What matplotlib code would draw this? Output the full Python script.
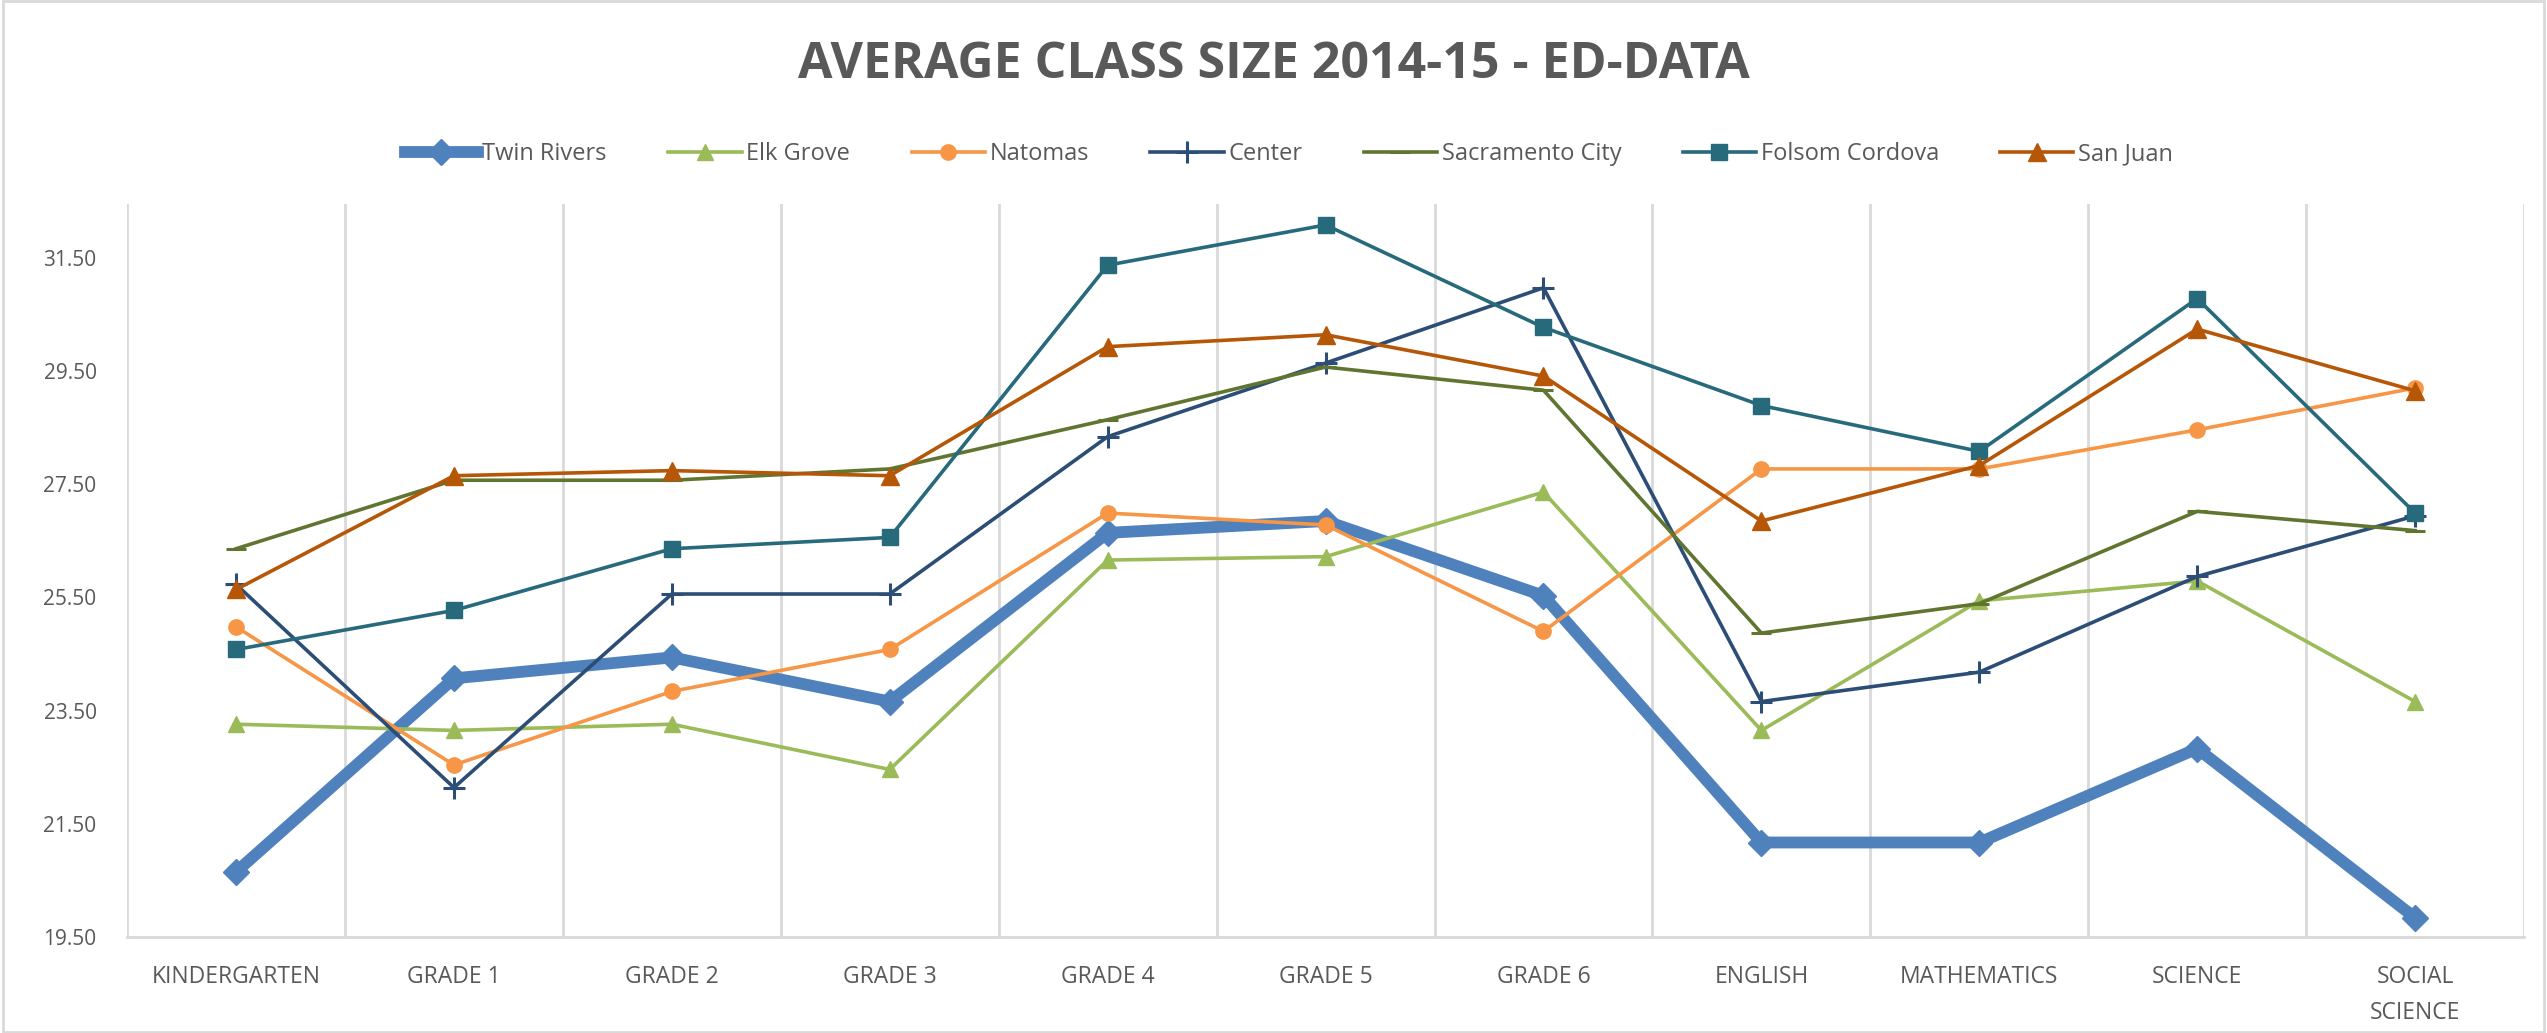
import matplotlib

matplotlib.use("Agg")
import matplotlib.pyplot as plt
from matplotlib import font_manager
from matplotlib.patches import Rectangle

CATEGORIES = [
    "KINDERGARTEN", "GRADE 1", "GRADE 2", "GRADE 3", "GRADE 4", "GRADE 5",
    "GRADE 6", "ENGLISH", "MATHEMATICS", "SCIENCE", "SOCIAL\nSCIENCE",
]

TWIN_RIVERS = [20.65, 24.07, 24.44, 23.66, 26.64, 26.85, 25.53, 21.17, 21.17, 22.83, 19.84]
ELK_GROVE = [23.26, 23.15, 23.26, 22.46, 26.16, 26.22, 27.36, 23.15, 25.44, 25.79, 23.66]
NATOMAS = [24.98, 22.54, 23.84, 24.58, 26.99, 26.78, 24.90, 27.77, 27.77, 28.46, 29.20]
CENTER = [25.73, 22.14, 25.56, 25.56, 28.34, 29.64, 30.97, 23.66, 24.18, 25.87, 26.94]
SACRAMENTO_CITY = [26.36, 27.57, 27.57, 27.77, 28.64, 29.57, 29.16, 24.87, 25.39, 27.02, 26.68]
FOLSOM_CORDOVA = [24.58, 25.27, 26.36, 26.56, 31.37, 32.08, 30.27, 28.89, 28.08, 30.78, 26.99]
SAN_JUAN = [25.64, 27.65, 27.74, 27.65, 29.93, 30.14, 29.41, 26.85, 27.83, 30.24, 29.15]

Y_TICKS = [19.5, 21.5, 23.5, 25.5, 27.5, 29.5, 31.5]

SERIES = [
    ("Twin Rivers", TWIN_RIVERS, "#4F81BD", "D", 8.5, 13),
    ("Elk Grove", ELK_GROVE, "#9BBB59", "^", 2.6, 12),
    ("Natomas", NATOMAS, "#F79646", "o", 2.6, 11),
    ("Center", CENTER, "#2C4D75", "+", 2.6, 16),
    ("Sacramento City", SACRAMENTO_CITY, "#5F7530", "_", 2.6, 14),
    ("Folsom Cordova", FOLSOM_CORDOVA, "#276A7C", "s", 2.6, 11),
    ("San Juan", SAN_JUAN, "#B65708", "^", 2.6, 13),
]

TEXT_COLOR = "#595959"
GRID_COLOR = "#D9D9D9"


def pick_font(*names):
    installed = {f.name for f in font_manager.fontManager.ttflist}
    for name in names:
        if name in installed:
            return name
    return "DejaVu Sans"


NARROW = pick_font("Liberation Sans Narrow", "Open Sans", "Liberation Sans")


def main():
    fig = plt.figure(figsize=(25.47, 10.33), dpi=100)
    ax = fig.add_axes([0.0499, 0.0929, 0.991 - 0.0499, 0.8025 - 0.0929])

    x = list(range(len(CATEGORIES)))
    for name, values, color, marker, width, size in SERIES:
        mew = 2.2 if marker in ("+", "_") else 1.0
        ax.plot(
            x, values, color=color, linewidth=width, marker=marker,
            markersize=size, markeredgewidth=mew, markeredgecolor=color,
            markerfacecolor=color, label=name, solid_joinstyle="miter",
        )

    ax.set_xlim(-0.5, len(CATEGORIES) - 0.5)
    ax.set_ylim(19.5, 32.45)

    for boundary in range(len(CATEGORIES) + 1):
        ax.axvline(boundary - 0.5, color=GRID_COLOR, linewidth=2.0, zorder=0)

    ax.set_xticks(x)
    ax.set_xticklabels(CATEGORIES, fontsize=16.5, color=TEXT_COLOR, family=[NARROW, "DejaVu Sans"],
                       linespacing=1.7, va="top")
    ax.set_yticks(Y_TICKS)
    ax.set_yticklabels([f"{v:.2f}" for v in Y_TICKS], fontsize=15, color=TEXT_COLOR,
                       family=[NARROW, "DejaVu Sans"])
    ax.tick_params(axis="x", length=0, pad=20)
    ax.tick_params(axis="y", length=0, pad=22)

    for side in ("left", "top", "right"):
        ax.spines[side].set_visible(False)
    ax.spines["bottom"].set_color(GRID_COLOR)
    ax.spines["bottom"].set_linewidth(2.0)

    fig.text(0.5, 0.937, "AVERAGE CLASS SIZE 2014-15 - ED-DATA", ha="center", va="center",
             fontsize=36, fontweight="bold", color=TEXT_COLOR, family=[NARROW, "DejaVu Sans"])

    legend = fig.legend(
        loc="center", bbox_to_anchor=(0.506, 0.851), ncol=len(SERIES), frameon=False,
        handlelength=3.1, columnspacing=2.6, handletextpad=0.2,
        prop={"family": [NARROW, "DejaVu Sans"], "size": 17},
    )
    for text in legend.get_texts():
        text.set_color(TEXT_COLOR)

    fig.add_artist(Rectangle((0.001, 0.001), 0.998, 0.998, transform=fig.transFigure,
                             fill=False, edgecolor=GRID_COLOR, linewidth=2.0))

    fig.savefig("out.png", dpi=100, facecolor="white")
    plt.close(fig)


if __name__ == "__main__":
    main()
